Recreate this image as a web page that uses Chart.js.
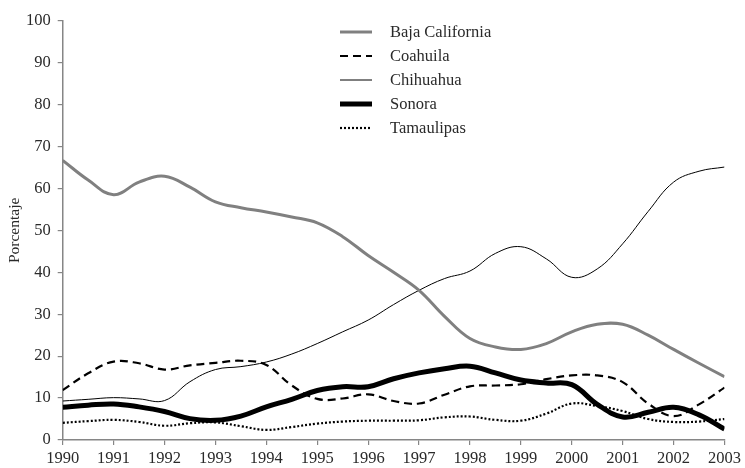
<!DOCTYPE html>
<html>
<head>
<meta charset="utf-8">
<script src="https://cdn.jsdelivr.net/npm/chart.js@4.4.1/dist/chart.umd.min.js"></script>
<style>
html,body{margin:0;padding:0;background:#fff;}
#wrap{width:745px;height:468px;position:relative;}
</style>
</head>
<body>
<div id="wrap"><canvas id="c" width="745" height="468"></canvas></div>
<script>
// Half-year sampling positions (years)
const years = [1990,1990.5,1991,1991.5,1992,1992.5,1993,1993.5,1994,1994.5,1995,1995.5,1996,1996.5,1997,1997.5,1998,1998.5,1999,1999.5,2000,2000.5,2001,2001.5,2002,2002.5,2003];
const tickYears = [1990,1991,1992,1993,1994,1995,1996,1997,1998,1999,2000,2001,2002,2003];
const seriesNames = ['Baja California','Coahuila','Chihuahua','Sonora','Tamaulipas'];

const bajaCalifornia = [66.7,62,58.5,61.5,62.9,60.3,56.8,55.4,54.4,53.2,51.8,48.5,44,40,35.7,29.5,24.2,22.2,21.6,23,25.8,27.6,27.6,25,21.6,18.3,15.1];
const coahuila = [11.9,15.9,18.7,18.3,16.8,17.8,18.4,18.9,17.9,13.0,9.8,9.9,10.9,9.3,8.7,10.8,12.8,13.0,13.3,14.5,15.4,15.4,13.8,8.7,5.7,8.5,12.5];
const chihuahua = [9.3,9.7,10.1,9.8,9.4,13.9,16.8,17.5,18.6,20.5,23.0,25.8,28.6,32.3,35.7,38.5,40.3,44.5,46.1,43.2,38.8,40.8,46.8,54.5,61.5,64.1,65.1];
const sonora = [7.8,8.3,8.6,7.9,6.8,5.1,4.7,5.7,7.9,9.7,11.8,12.7,12.7,14.6,16.0,17.0,17.6,16.0,14.3,13.6,13.2,8.5,5.5,6.6,7.8,6.0,2.6];
const tamaulipas = [4.1,4.5,4.8,4.3,3.4,4.0,4.2,3.3,2.4,3.1,3.9,4.4,4.6,4.6,4.7,5.4,5.6,4.8,4.6,6.3,8.7,8.1,6.9,5.0,4.3,4.4,5.0];

const FONT = '"Liberation Serif", "Times New Roman", serif';
const TXT = '#2a2a2a';
const AXIS = '#868686';

function pts(vals){ return vals.map((v,i)=>({x:years[i], y:v})); }

const styles = [
  {color:'#808080', width:3, dash:[]},
  {color:'#000000', width:2.2, dash:[8,5]},
  {color:'#000000', width:1, dash:[]},
  {color:'#000000', width:5, dash:[]},
  {color:'#000000', width:2.2, dash:[2,2]}
];
const allVals = [bajaCalifornia, coahuila, chihuahua, sonora, tamaulipas];

const datasets = allVals.map((vals,i)=>({
  label: seriesNames[i],
  data: pts(vals),
  borderColor: styles[i].color,
  borderWidth: styles[i].width,
  borderDash: styles[i].dash,
  borderCapStyle: 'butt',
  pointRadius: 0,
  tension: 0.4,
  fill: false
}));

const legendPlugin = {
  id: 'customLegend',
  afterDraw(chart){
    const ctx = chart.ctx;
    ctx.save();
    const x0 = 340, x1 = 372, tx = 390;
    const rows = [32, 56, 80, 104, 128];
    chart.data.datasets.forEach((ds,i)=>{
      const y = rows[i];
      ctx.beginPath();
      ctx.strokeStyle = ds.borderColor;
      ctx.lineWidth = ds.borderWidth;
      ctx.setLineDash(ds.borderDash);
      ctx.lineCap = 'butt';
      ctx.moveTo(x0, y);
      ctx.lineTo(x1, y);
      ctx.stroke();
      ctx.setLineDash([]);
      ctx.fillStyle = TXT;
      ctx.font = '16.5px ' + FONT;
      ctx.textBaseline = 'middle';
      ctx.textAlign = 'left';
      ctx.fillText(ds.label, tx, y + 1);
    });
    ctx.restore();
  }
};

new Chart(document.getElementById('c'), {
  type: 'line',
  data: { datasets },
  options: {
    responsive: false,
    animation: false,
    devicePixelRatio: 1,
    layout: { padding: { top: 20.7, right: 18.3, bottom: 0, left: 0 } },
    plugins: { legend: { display: false }, tooltip: { enabled: false } },
    scales: {
      x: {
        type: 'linear',
        min: 1990, max: 2003,
        afterBuildTicks(scale){ scale.ticks = tickYears.map(v=>({value:v})); },
        afterFit(scale){ scale.height = 28; },
        border: { display: true, color: AXIS, width: 1.5 },
        grid: { display: true, drawOnChartArea: false, drawTicks: true, tickLength: 5, color: AXIS, lineWidth: 1.2 },
        ticks: { color: TXT, font: { family: FONT, size: 16.5 }, padding: 4, maxRotation: 0, autoSkip: false, callback: v => String(v) }
      },
      y: {
        min: 0, max: 100,
        afterFit(scale){ scale.width = 62.7; },
        border: { display: true, color: AXIS, width: 1.5 },
        grid: { display: true, drawOnChartArea: false, drawTicks: true, tickLength: 5, color: AXIS, lineWidth: 1.2 },
        ticks: { stepSize: 10, color: TXT, font: { family: FONT, size: 16.5 }, padding: 7 },
        title: { display: true, text: 'Porcentaje', color: TXT, font: { family: FONT, size: 15.5 }, padding: { top: 6, bottom: 0 } }
      }
    }
  },
  plugins: [legendPlugin]
});
</script>
</body>
</html>
